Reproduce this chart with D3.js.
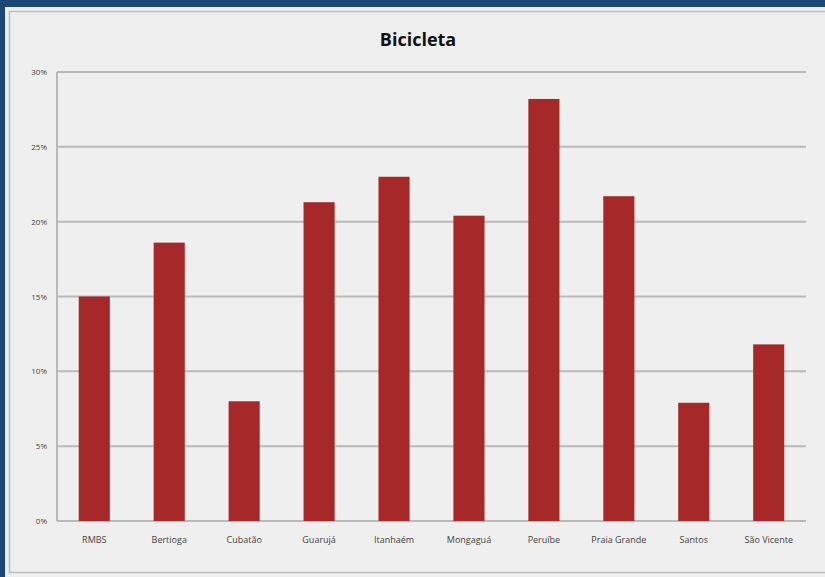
<!DOCTYPE html>
<html>
<head>
<meta charset="utf-8">
<script src="https://cdn.jsdelivr.net/npm/d3@7"></script>
<style>
  body { margin: 0; background: #1b4676; }
  svg { display: block; }
</style>
</head>
<body>
<div id="plot"></div>
<script>
// data
var cities = ["RMBS", "Bertioga", "Cubatão", "Guarujá", "Itanhaém", "Mongaguá", "Peruíbe", "Praia Grande", "Santos", "São Vicente"]
var bikeShare = [0.150, 0.186, 0.080, 0.213, 0.230, 0.204, 0.282, 0.217, 0.079, 0.118]
var yTicks = [0, 0.05, 0.10, 0.15, 0.20, 0.25, 0.30]
var chartTitle = "Bicicleta"

var svgWidth = 825
var svgHeight = 577

var margin = { top: 72, right: 19, bottom: 56, left: 57 }
var width = svgWidth - margin.left - margin.right
var height = svgHeight - margin.top - margin.bottom

var font = "'Liberation Sans Narrow', 'Open Sans', sans-serif"

var svg = d3.select("#plot")
  .append("svg")
  .attr("width", svgWidth)
  .attr("height", svgHeight)

// blue frame + grey panel
svg.append("rect")
  .attr("width", svgWidth).attr("height", svgHeight)
  .attr("fill", "#1b4676")
svg.append("rect")
  .attr("x", 5).attr("y", 7)
  .attr("width", 840).attr("height", 580)
  .attr("fill", "#efefef")
svg.append("rect")
  .attr("x", 9.5).attr("y", 11.5)
  .attr("width", 830).attr("height", 561)
  .attr("fill", "none")
  .attr("stroke", "#bdbdbd")
  .attr("stroke-width", 1.5)

var chartGroup = svg.append("g")
  .attr("transform", `translate(${margin.left}, ${margin.top})`)

var xBandScale = d3.scaleBand()
  .domain(cities)
  .range([0, width])
  .paddingInner(0.585)
  .paddingOuter(0.29)

var yLinearScale = d3.scaleLinear()
  .domain([0, 0.30])
  .range([height, 0])

// gridlines
chartGroup.append("g")
  .selectAll("line")
  .data(yTicks)
  .enter()
  .append("line")
  .attr("x1", 0)
  .attr("x2", width)
  .attr("y1", d => yLinearScale(d))
  .attr("y2", d => yLinearScale(d))
  .attr("stroke", "#b9b9b9")
  .attr("stroke-width", 2)

// y axis line
chartGroup.append("line")
  .attr("x1", 0).attr("x2", 0)
  .attr("y1", 0).attr("y2", height)
  .attr("stroke", "#b9b9b9")
  .attr("stroke-width", 2)

// y tick labels
var leftAxis = d3.axisLeft(yLinearScale)
  .tickValues(yTicks)
  .tickFormat(d3.format(".0%"))
  .tickSize(0)
  .tickPadding(10)

var yAxisG = chartGroup.append("g").call(leftAxis)
yAxisG.select(".domain").remove()
yAxisG.selectAll("text")
  .style("font-family", font)
  .style("font-size", "8px")
  .attr("fill", "#444")

// bars
chartGroup.selectAll(".bar")
  .data(bikeShare)
  .enter()
  .append("rect")
  .attr("class", "bar")
  .attr("x", (d, i) => xBandScale(cities[i]))
  .attr("y", d => yLinearScale(d))
  .attr("width", xBandScale.bandwidth())
  .attr("height", d => height - yLinearScale(d))
  .attr("fill", "#a62828")

// x labels
var bottomAxis = d3.axisBottom(xBandScale)
  .tickSize(0)
  .tickPadding(16)

var xAxisG = chartGroup.append("g")
  .attr("transform", `translate(0, ${height})`)
  .call(bottomAxis)
xAxisG.select(".domain").remove()
xAxisG.selectAll("text")
  .style("font-family", font)
  .style("font-size", "9px")
  .attr("fill", "#444")

// title
svg.append("text")
  .attr("x", 418)
  .attr("y", 46)
  .attr("text-anchor", "middle")
  .style("font-family", font)
  .style("font-size", "18px")
  .style("font-weight", "bold")
  .attr("fill", "#111")
  .text(chartTitle)
</script>
</body>
</html>
